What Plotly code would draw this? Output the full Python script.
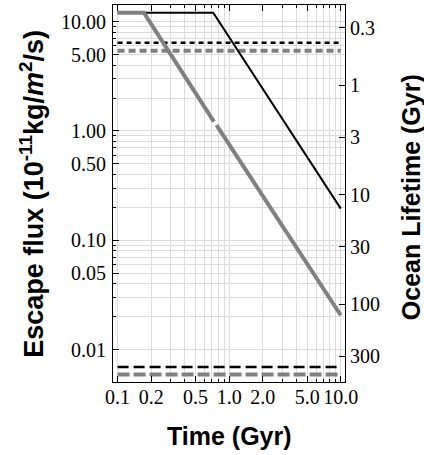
import plotly.graph_objects as go

# ---- data ----
time_gray = [0.1, 0.172, 0.73, None, 0.77, 10.0]
flux_gray = [12.1, 12.1, 1.22, None, 1.13, 0.0206]

time_black = [0.1, 0.72, 10.0]
flux_black = [12.1, 12.1, 0.195]

hline_x = [0.1, 10.0]
hline_black_top = 6.43
hline_gray_top = 5.43
hline_black_bottom = 0.00693
hline_gray_bottom = 0.0059

x_tickvals = [0.1, 0.2, 0.5, 1, 2, 5, 10]
x_ticktext = ["0.1", "0.2", "0.5", "1.0", "2.0", "5.0", "10.0"]
x_minor = [0.3, 0.4, 0.6, 0.7, 0.8, 0.9, 3, 4, 6, 7, 8, 9]

y_tickvals = [0.01, 0.05, 0.1, 0.5, 1, 5, 10]
y_ticktext = ["0.01", "0.05", "0.10", "0.50", "1.00", "5.00", "10.00"]
y_minor = [0.02, 0.03, 0.04, 0.06, 0.07, 0.08, 0.09,
           0.2, 0.3, 0.4, 0.6, 0.7, 0.8, 0.9,
           2, 3, 4, 6, 7, 8, 9]

life_tickvals = [0.3, 1, 3, 10, 30, 100, 300]
life_ticktext = ["0.3", "1", "3", "10", "30", "100", "300"]

GRAY = "#808080"
GRID = "#dcdcdc"
SERIF = "Liberation Serif"
SANS = "Liberation Sans"

fig = go.Figure()

# horizontal reference lines
fig.add_trace(go.Scatter(x=hline_x, y=[hline_black_top] * 2, mode="lines",
                         line=dict(color="black", width=2.5, dash="5px,4px"),
                         showlegend=False, hoverinfo="skip"))
fig.add_trace(go.Scatter(x=hline_x, y=[hline_gray_top] * 2, mode="lines",
                         line=dict(color=GRAY, width=4, dash="7px,4px"),
                         showlegend=False, hoverinfo="skip"))
fig.add_trace(go.Scatter(x=hline_x, y=[hline_black_bottom] * 2, mode="lines",
                         line=dict(color="black", width=2.5, dash="11px,5px"),
                         showlegend=False, hoverinfo="skip"))
fig.add_trace(go.Scatter(x=hline_x, y=[hline_gray_bottom] * 2, mode="lines",
                         line=dict(color=GRAY, width=4, dash="12px,4px"),
                         showlegend=False, hoverinfo="skip"))

# escape flux curves
fig.add_trace(go.Scatter(x=time_black, y=flux_black, mode="lines",
                         line=dict(color="black", width=2),
                         showlegend=False))
fig.add_trace(go.Scatter(x=time_gray, y=flux_gray, mode="lines",
                         line=dict(color=GRAY, width=4),
                         showlegend=False, connectgaps=False))

# invisible trace to activate right axis
fig.add_trace(go.Scatter(x=[1], y=[1], yaxis="y2", mode="markers",
                         marker=dict(opacity=0), showlegend=False,
                         hoverinfo="skip"))

fig.update_layout(
    width=424, height=455,
    margin=dict(l=113, r=79, t=5, b=73, autoexpand=False),
    paper_bgcolor="white", plot_bgcolor="white",
    showlegend=False,
    xaxis=dict(
        type="log", range=[-1.041, 1.038],
        tickmode="array", tickvals=x_tickvals, ticktext=x_ticktext,
        ticks="inside", ticklen=6, tickcolor="black", tickwidth=1,
        showline=True, linecolor="black", linewidth=1, mirror="ticks",
        showgrid=True, gridcolor=GRID, gridwidth=1,
        tickfont=dict(family=SERIF, size=20, color="black"),
        minor=dict(tickvals=x_minor, ticks="inside", ticklen=3,
                   tickcolor="black", showgrid=True, gridcolor=GRID, gridwidth=1),
        ticklabelstandoff=-3,
        zeroline=False,
    ),
    yaxis=dict(
        type="log", range=[-2.297, 1.153],
        tickmode="array", tickvals=y_tickvals, ticktext=y_ticktext,
        ticks="inside", ticklen=6, tickcolor="black", tickwidth=1,
        showline=True, linecolor="black", linewidth=1,
        showgrid=True, gridcolor=GRID, gridwidth=1,
        tickfont=dict(family=SERIF, size=20, color="black"),
        minor=dict(tickvals=y_minor, ticks="inside", ticklen=3,
                   tickcolor="black", showgrid=True, gridcolor=GRID, gridwidth=1),
        ticklabelstandoff=2,
        zeroline=False,
    ),
    yaxis2=dict(
        type="log", overlaying="y", side="right", range=[2.710, -0.731],
        tickmode="array", tickvals=life_tickvals, ticktext=life_ticktext,
        ticks="inside", ticklen=6, tickcolor="black", tickwidth=1,
        showline=True, linecolor="black", linewidth=1,
        showgrid=False,
        tickfont=dict(family=SERIF, size=20, color="black"),
        ticklabelstandoff=0,
        zeroline=False,
    ),
    annotations=[
        dict(text="<b>Time (Gyr)</b>", xref="paper", yref="paper",
             x=0.5, y=-0.144, xanchor="center", yanchor="middle",
             showarrow=False, font=dict(family=SANS, size=25, color="black")),
        dict(text="<b>Escape flux (10<sup>-11</sup>kg/<i>m</i><sup>2</sup>/s)</b>",
             xref="paper", yref="paper", x=-0.352, y=0.5,
             xanchor="center", yanchor="middle", textangle=-90,
             showarrow=False, font=dict(family=SANS, size=27, color="black")),
        dict(text="<b>Ocean Lifetime (Gyr)</b>", xref="paper", yref="paper",
             x=1.284, y=0.49, xanchor="center", yanchor="middle", textangle=-90,
             showarrow=False, font=dict(family=SANS, size=25, color="black")),
    ],
)

fig.write_html("out.html", config={"displayModeBar": False},
               post_script="document.body.style.margin='0';document.body.style.overflow='hidden';")
